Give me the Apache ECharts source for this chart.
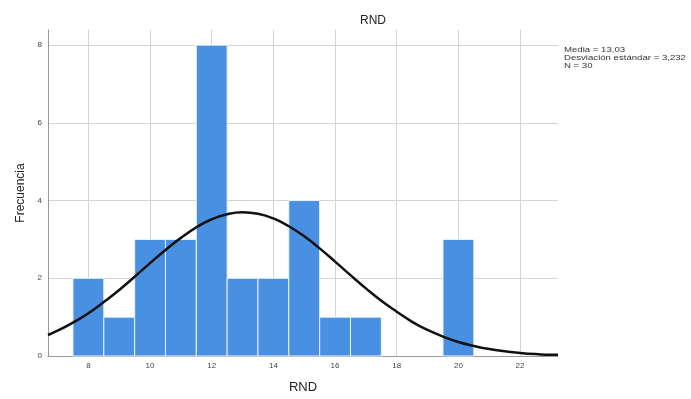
<!DOCTYPE html>
<html><head><meta charset="utf-8">
<script src="https://cdn.jsdelivr.net/npm/echarts@6/dist/echarts.min.js"></script>
<style>html,body{margin:0;padding:0;background:#fff}#c{width:691px;height:399px}</style>
</head><body><div id="c"></div>
<script>
// Histogram bins (center value) and frequencies
const binCenters = [8, 9, 10, 11, 12, 13, 14, 15, 16, 17, 20];
const frequencies = [2, 1, 3, 3, 8, 2, 2, 4, 1, 1, 3];
// Normal curve points
const curveX = [6.69, 7, 7.5, 8, 8.5, 9, 9.5, 10, 10.5, 11, 11.5, 12, 12.5, 13, 13.5, 14, 14.5, 15, 15.5, 16, 16.5, 17, 17.5, 18, 18.5, 19, 19.5, 20, 20.5, 21, 21.5, 22, 22.5, 23, 23.23];
const curveY = [0.54, 0.65, 0.86, 1.10, 1.39, 1.70, 2.04, 2.39, 2.73, 3.04, 3.31, 3.52, 3.65, 3.70, 3.66, 3.54, 3.34, 3.08, 2.77, 2.43, 2.08, 1.74, 1.42, 1.14, 0.88, 0.67, 0.50, 0.36, 0.26, 0.18, 0.12, 0.08, 0.05, 0.03, 0.03];
const xTicks = [8, 10, 12, 14, 16, 18, 20, 22];
const yTicks = [0, 2, 4, 6, 8];
const statsLines = ['Media = 13,03', 'Desviación estándar = 3,232', 'N = 30'];

const chart = echarts.init(document.getElementById('c'), null, {renderer: 'canvas'});
const font = 'Liberation Sans, Arial, sans-serif';
chart.setOption({
  animation: false,
  backgroundColor: '#fff',
  title: {
    text: 'RND', left: 368, top: 10, textAlign: 'center',
    textStyle: {fontFamily: font, fontSize: 12, fontWeight: 'normal', color: '#222'}
  },
  graphic: [{
    type: 'text', x: 564, y: 46, scaleX: 1.2,
    style: {text: statsLines.join('\n'), font: '8px ' + font, fill: '#333', lineHeight: 8}
  }],
  grid: {left: 48, right: 133, top: 30, bottom: 43},
  xAxis: {
    type: 'value', min: 6.69, max: 23.23,
    name: 'RND', nameLocation: 'middle', nameGap: 25,
    nameTextStyle: {fontFamily: font, fontSize: 13, color: '#222'},
    axisLine: {show: true, onZero: false, lineStyle: {color: '#9a9a9a', width: 1}},
    axisTick: {show: false, customValues: xTicks},
    axisLabel: {customValues: xTicks, fontFamily: font, fontSize: 8, color: '#444', margin: 6},
    splitLine: {show: true, lineStyle: {color: '#d4d4d4', width: 1}}
  },
  yAxis: {
    type: 'value', min: 0, max: 8.39,
    name: 'Frecuencia', nameLocation: 'middle', nameGap: 20,
    nameTextStyle: {fontFamily: font, fontSize: 12, color: '#222'},
    axisLine: {show: true, lineStyle: {color: '#9a9a9a', width: 1}},
    axisTick: {show: false, customValues: yTicks},
    axisLabel: {customValues: yTicks, fontFamily: font, fontSize: 8, color: '#444', margin: 6},
    splitLine: {show: true, lineStyle: {color: '#d4d4d4', width: 1}}
  },
  series: [{
    type: 'custom',
    data: binCenters.map((c, i) => [c, frequencies[i]]),
    renderItem: function (params, api) {
      const c = api.value(0), v = api.value(1);
      const p1 = api.coord([c - 0.5, v]);
      const p2 = api.coord([c + 0.5, 0]);
      return {
        type: 'rect',
        shape: {x: p1[0], y: p1[1], width: p2[0] - p1[0], height: p2[1] - p1[1]},
        style: {fill: '#4a90e2', stroke: '#e8f3ff', lineWidth: 1}
      };
    },
    z: 2
  }, {
    type: 'line',
    data: curveX.map((x, i) => [x, curveY[i]]),
    smooth: true, showSymbol: false, symbol: 'none',
    lineStyle: {color: '#111', width: 2.5},
    z: 3
  }]
});
</script></body></html>
